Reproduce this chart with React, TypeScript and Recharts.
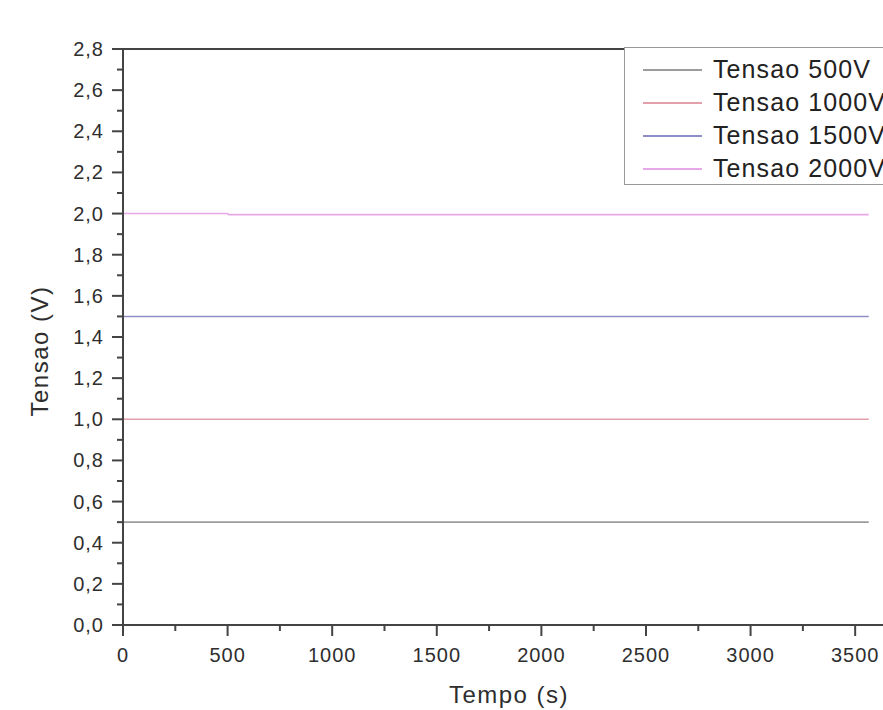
import { LineChart, Line, XAxis, YAxis, Legend, ReferenceLine } from 'recharts';

const tempos = [0, 500, 505, 1000, 1500, 2000, 2500, 3000, 3565];
const tensao500 = [0.5, 0.5, 0.5, 0.5, 0.5, 0.5, 0.5, 0.5, 0.5];
const tensao1000 = [1.0, 1.0, 1.0, 1.0, 1.0, 1.0, 1.0, 1.0, 1.0];
const tensao1500 = [1.5, 1.5, 1.5, 1.5, 1.5, 1.5, 1.5, 1.5, 1.5];
const tensao2000 = [2.0, 2.0, 1.995, 1.995, 1.995, 1.995, 1.995, 1.995, 1.995];

const xMajor = [0, 500, 1000, 1500, 2000, 2500, 3000, 3500];
const xMinor = [250, 750, 1250, 1750, 2250, 2750, 3250];
const yMajor = [0, 0.2, 0.4, 0.6, 0.8, 1.0, 1.2, 1.4, 1.6, 1.8, 2.0, 2.2, 2.4, 2.6, 2.8];
const yMinor = [0.1, 0.3, 0.5, 0.7, 0.9, 1.1, 1.3, 1.5, 1.7, 1.9, 2.1, 2.3, 2.5, 2.7];

const series = [
  { key: 's500', name: 'Tensao 500V', values: tensao500, color: '#9c9c9c' },
  { key: 's1000', name: 'Tensao 1000V', values: tensao1000, color: '#e3a0aa' },
  { key: 's1500', name: 'Tensao 1500V', values: tensao1500, color: '#8e8ec6' },
  { key: 's2000', name: 'Tensao 2000V', values: tensao2000, color: '#e6a8e6' },
];

const data = tempos.map((t, i) => {
  const row: Record<string, number> = { t };
  series.forEach((s) => {
    row[s.key] = s.values[i];
  });
  return row;
});

const font = '"Liberation Sans", Arial, sans-serif';
const axisColor = '#444';
const textColor = '#2e2e2e';

const isMajor = (list: number[], v: number) => list.some((m) => Math.abs(m - v) < 1e-6);

const XTick = (props: any) => {
  const { x, y, payload } = props;
  const major = isMajor(xMajor, payload.value);
  return (
    <g>
      <line x1={x} x2={x} y1={y} y2={y + (major ? 11 : 6)} stroke={axisColor} strokeWidth={2} />
      {major && (
        <text x={x} y={y + 37} textAnchor="middle" fontSize={20} letterSpacing={1} fill={textColor} fontFamily={font}>
          {payload.value}
        </text>
      )}
    </g>
  );
};

const YTick = (props: any) => {
  const { x, y, payload } = props;
  const major = isMajor(yMajor, payload.value);
  return (
    <g>
      <line x1={x - (major ? 11 : 6)} x2={x} y1={y} y2={y} stroke={axisColor} strokeWidth={2} />
      {major && (
        <text x={x - 19} y={y + 7} textAnchor="end" fontSize={20} letterSpacing={1} fill={textColor} fontFamily={font}>
          {payload.value.toFixed(1).replace('.', ',')}
        </text>
      )}
    </g>
  );
};

const LegendBox = (props: any) => {
  const items = [...(props.payload || [])].sort(
    (a: any, b: any) =>
      series.findIndex((s) => s.name === a.value) - series.findIndex((s) => s.name === b.value),
  );
  return (
    <div
      style={{
        width: 300,
        height: 138,
        boxSizing: 'border-box',
        border: '1px solid #999',
        background: '#fff',
        paddingTop: 5,
        fontFamily: font,
      }}
    >
      {items.map((p: any) => (
        <div key={p.value} style={{ display: 'flex', alignItems: 'center', height: 33 }}>
          <div style={{ marginLeft: 18, width: 59, height: 0, borderTop: `2px solid ${p.color}` }} />
          <span style={{ marginLeft: 11, fontSize: 25, letterSpacing: 1.1, color: '#222', whiteSpace: 'nowrap' }}>
            {p.value}
          </span>
        </div>
      ))}
    </div>
  );
};

export default function App() {
  return (
    <div style={{ position: 'absolute', left: 0, top: 0, width: 883, height: 710, overflow: 'hidden', background: '#fff' }}>
      <LineChart width={910} height={710} data={data} margin={{ top: 49, right: 13, bottom: 35, left: 53 }}>
        <XAxis
          dataKey="t"
          type="number"
          domain={[0, 3700]}
          ticks={[...xMajor, ...xMinor].sort((a, b) => a - b)}
          tick={<XTick />}
          tickSize={0}
          tickMargin={0}
          tickLine={false}
          axisLine={{ stroke: axisColor, strokeWidth: 2 }}
          height={50}
          interval={0}
          label={{
            value: 'Tempo (s)',
            content: () => (
              <text x={509} y={703} textAnchor="middle" fontSize={24} letterSpacing={1.5} fill={textColor} fontFamily={font}>
                Tempo (s)
              </text>
            ),
          }}
        />
        <YAxis
          type="number"
          domain={[0, 2.8]}
          ticks={[...yMajor, ...yMinor].sort((a, b) => a - b)}
          tick={<YTick />}
          tickSize={0}
          tickMargin={0}
          tickLine={false}
          axisLine={{ stroke: axisColor, strokeWidth: 2 }}
          width={70}
          interval={0}
          allowDataOverflow
          label={{
            value: 'Tensao (V)',
            content: () => (
              <text
                x={48}
                y={351}
                transform="rotate(-90 48 351)"
                textAnchor="middle"
                fontSize={24}
                letterSpacing={1.5}
                fill={textColor}
                fontFamily={font}
              >
                Tensao (V)
              </text>
            ),
          }}
        />
        <ReferenceLine y={2.8} stroke={axisColor} strokeWidth={2} />
        {series.map((s) => (
          <Line
            key={s.key}
            dataKey={s.key}
            name={s.name}
            stroke={s.color}
            strokeWidth={1.6}
            dot={false}
            type="linear"
            isAnimationActive={false}
          />
        ))}
        <Legend
          layout="horizontal"
          verticalAlign="middle"
          align="center"
          itemSorter={null as any}
          content={<LegendBox />}
          wrapperStyle={{ left: 624, top: 47, width: 300, height: 138 }}
        />
      </LineChart>
    </div>
  );
}
